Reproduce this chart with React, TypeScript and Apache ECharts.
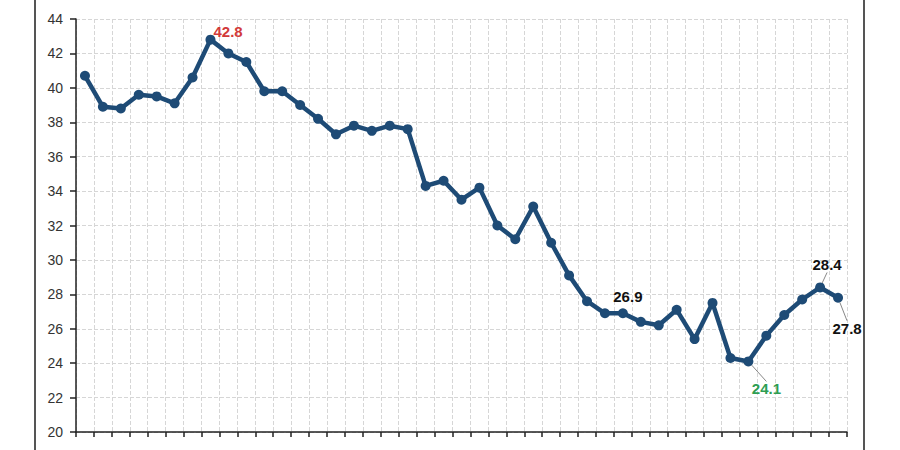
import React, { useEffect, useRef } from "react";
import * as echarts from "echarts";

const categories: string[] = [
  "2019-01", "2019-02", "2019-03", "2019-04", "2019-05", "2019-06", "2019-07", "2019-08",
  "2019-09", "2019-10", "2019-11", "2019-12", "2020-01", "2020-02", "2020-03", "2020-04",
  "2020-05", "2020-06", "2020-07", "2020-08", "2020-09", "2020-10", "2020-11", "2020-12",
  "2021-01", "2021-02", "2021-03", "2021-04", "2021-05", "2021-06", "2021-07", "2021-08",
  "2021-09", "2021-10", "2021-11", "2021-12", "2022-01", "2022-02", "2022-03", "2022-04",
  "2022-05", "2022-06", "2022-07",
];

const values: number[] = [
  40.7, 38.9, 38.8, 39.6, 39.5, 39.1, 40.6, 42.8,
  42.0, 41.5, 39.8, 39.8, 39.0, 38.2, 37.3, 37.8,
  37.5, 37.8, 37.6, 34.3, 34.6, 33.5, 34.2, 32.0,
  31.2, 33.1, 31.0, 29.1, 27.6, 26.9, 26.9, 26.4,
  26.2, 27.1, 25.4, 27.5, 24.3, 24.1, 25.6, 26.8,
  27.7, 28.4, 27.8,
];

const yMin = 20;
const yMax = 44;
const yInterval = 2;

// annotated points: index -> style
const annotations: Record<number, { color: string; position: string; dx: number; dy: number; line: boolean }> = {
  7: { color: "#d23a3a", position: "right", dx: -6, dy: -8, line: false },
  30: { color: "#111111", position: "top", dx: 5, dy: 0, line: false },
  37: { color: "#2e9e52", position: "bottom", dx: 18, dy: 11, line: true },
  41: { color: "#111111", position: "top", dx: 7, dy: -6, line: true },
  42: { color: "#111111", position: "bottom", dx: 9, dy: 14, line: true },
};

export default function App() {
  const ref = useRef<HTMLDivElement>(null);

  useEffect(() => {
    document.body.style.margin = "0";
    if (!ref.current) return;
    const chart = echarts.init(ref.current, undefined, { renderer: "svg" });

    const seriesData = values.map((v, i) => {
      const a = annotations[i];
      if (!a) return v;
      return {
        value: v,
        label: {
          show: true,
          position: a.position,
          color: a.color,
          fontSize: 15,
          fontWeight: "bold",
          fontFamily: "Liberation Sans, Arial, sans-serif",
          distance: 4,
        },
        labelLine: a.line
          ? { show: true, lineStyle: { color: "#888", width: 1 } }
          : { show: false },
      };
    });

    chart.setOption({
      animation: false,
      backgroundColor: "#ffffff",
      grid: {
        left: 76,
        right: 53,
        top: 19,
        bottom: 18,
        containLabel: false,
        outerBoundsMode: "none",
      },
      xAxis: {
        type: "category",
        data: categories,
        boundaryGap: true,
        axisLine: { show: true, lineStyle: { color: "#222", width: 1.5 } },
        axisTick: { show: true, interval: 0, length: 5, lineStyle: { color: "#222", width: 1.5 } },
        axisLabel: { show: false },
        splitLine: {
          show: true,
          interval: 0,
          lineStyle: { color: "#d6d6d6", type: "dashed", width: 1 },
        },
      },
      yAxis: {
        type: "value",
        min: yMin,
        max: yMax,
        interval: yInterval,
        axisLine: { show: true, lineStyle: { color: "#222", width: 1.5 } },
        axisTick: { show: true, length: 6, lineStyle: { color: "#222", width: 1.5 } },
        axisLabel: {
          margin: 13,
          fontSize: 14,
          color: "#333",
          fontFamily: "Liberation Sans, Arial, sans-serif",
        },
        splitLine: {
          show: true,
          lineStyle: { color: "#d6d6d6", type: "dashed", width: 1 },
        },
      },
      series: [
        {
          type: "line",
          data: seriesData,
          symbol: "circle",
          symbolSize: 10,
          lineStyle: { color: "#1e4b76", width: 4.5 },
          itemStyle: { color: "#1e4b76" },
          label: { show: false },
          labelLayout: (params: any) => {
            const a = annotations[params.dataIndex];
            if (!a) return {};
            return { dx: a.dx, dy: a.dy };
          },
          z: 3,
        },
      ],
      graphic: [
        {
          type: "line",
          shape: { x1: 35, y1: 0, x2: 35, y2: 450 },
          style: { stroke: "#555", lineWidth: 2 },
          z: 10,
        },
        {
          type: "line",
          shape: { x1: 864, y1: 0, x2: 864, y2: 450 },
          style: { stroke: "#555", lineWidth: 2 },
          z: 10,
        },
      ],
    });

    return () => chart.dispose();
  }, []);

  return <div ref={ref} style={{ width: 900, height: 450 }} />;
}
